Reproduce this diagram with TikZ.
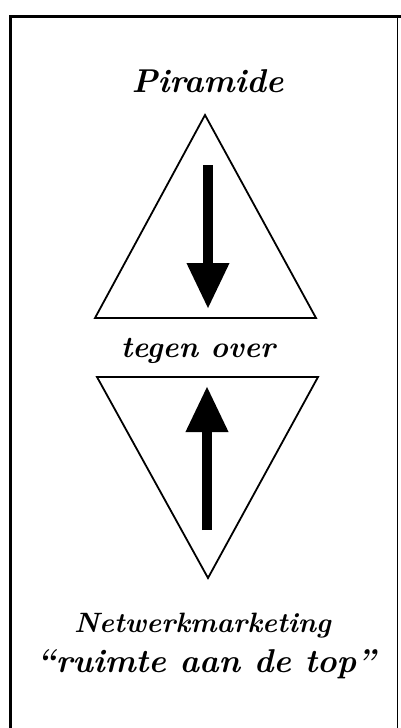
\documentclass[tikz,border=0pt]{standalone}
\usetikzlibrary{arrows.meta,positioning}

\begin{document}
\begin{tikzpicture}[x=1pt, y=-1pt,
  frameline/.style={line width=#1, line cap=rect},
  tribox/.style={line width=1.8pt, line join=miter},
  bigarrow/.style={line width=10pt, -{Triangle[length=46pt, width=40pt]}},
  title/.style={anchor=base, inner sep=0pt, font=\fontsize{#1}{36}\selectfont\bfseries\itshape},
  title/.default=30]
  \useasboundingbox (0,0) rectangle (400,728);
  % frame
  \coordinate (ftl) at (10,16);
  \coordinate (ftr) at (397.5,16);
  \draw[frameline=3pt] (ftl |- 0,728) -- (ftl) -- (ftl -| 400,0);
  \draw[frameline=1pt] (ftr) -- (ftr |- 0,728);
  % top triangle
  \node[title=33] (piramide) at (207.5,92) {Piramide};
  \coordinate (ttop) at (205,115);
  \coordinate (tleft) at (95,318);
  \coordinate (tright) at (316,318);
  \draw[tribox] (ttop) -- (tleft) -- (tright) -- cycle;
  \coordinate (downstart) at (208,165);
  \coordinate (downend) at (208,309);
  \draw[bigarrow] (downstart) -- (downend);
  % middle
  \node[title] (tegen) at (198,357) {tegen over};
  % bottom triangle
  \coordinate (bleft) at (97,377);
  \coordinate (bright) at (318,377);
  \coordinate (bbottom) at (208,578);
  \draw[tribox] (bleft) -- (bright) -- (bbottom) -- cycle;
  \coordinate (upstart) at (207,530);
  \coordinate (upend) at (207,386);
  \draw[bigarrow] (upstart) -- (upend);
  % labels at bottom
  \node[title=28] (netwerk) at (202.5,632) {Netwerkmarketing};
  \node[title=33] (ruimte) at (206,672) {``ruimte aan de top''};
\end{tikzpicture}
\end{document}
